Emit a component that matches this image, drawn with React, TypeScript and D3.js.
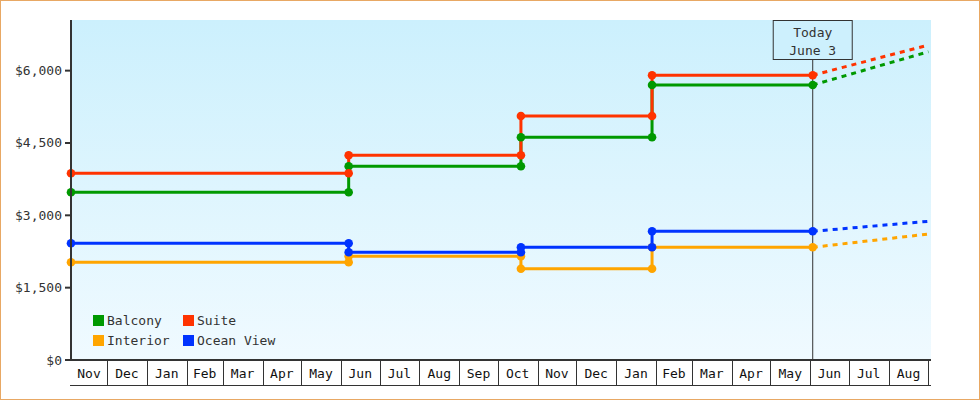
import React from "react";
import * as d3 from "d3";

const seriesNames = ["Balcony", "Suite", "Interior", "Ocean View"];
const seriesColors = ["#009900", "#ff3300", "#ffa500", "#0033ff"];
// dates where prices were observed / changed
const startDate = "2013-11-03";
const changeDates = ["2014-06-07", "2014-10-19", "2015-01-29"];
const todayDate = "2015-06-03";
const forecastDate = "2015-09-01";
const endDate = "2015-09-03";
// price levels for each period (start, after each change)
const balcony = [3478, 4016, 4618, 5702];
const suite = [3871, 4245, 5059, 5905];
const interior = [2026, 2150, 1893, 2337];
const oceanView = [2420, 2233, 2337, 2669];
// forecast values at forecastDate
const forecast = [6392, 6531, 2612, 2876];
const yTicks = [0, 1500, 3000, 4500, 6000];
const yMax = 7050;

const W = 980;
const H = 400;
const L = 71;
const R = 931;
const T = 20;
const B = 360;
const FONT = "'DejaVu Sans Mono', monospace";

const parse = d3.timeParse("%Y-%m-%d");

export default function App() {
  const x = d3.scaleTime().domain([parse(startDate)!, parse(endDate)!]).range([L, R]);
  const y = d3.scaleLinear().domain([0, yMax]).range([B, T]);
  const allLevels = [balcony, suite, interior, oceanView];
  const today = parse(todayDate)!;
  const fDate = parse(forecastDate)!;

  const series = allLevels.map((levels, i) => {
    const pts: [Date, number][] = [[parse(startDate)!, levels[0]]];
    changeDates.forEach((d, k) => {
      const dt = parse(d)!;
      pts.push([dt, levels[k]]);
      pts.push([dt, levels[k + 1]]);
    });
    pts.push([today, levels[levels.length - 1]]);
    const fc: [Date, number][] = [
      [today, levels[levels.length - 1]],
      [fDate, forecast[i]],
    ];
    return { name: seriesNames[i], color: seriesColors[i], pts, fc };
  });

  const line = d3
    .line<[Date, number]>()
    .x((d) => x(d[0]))
    .y((d) => y(d[1]));

  const [d0, d1] = x.domain();
  const monthStarts = d3.timeMonth.range(d3.timeMonth.ceil(d0), d1);
  const monthBands = d3.timeMonth.range(d3.timeMonth.floor(d0), d1).map((m) => {
    const s = m < d0 ? d0 : m;
    const eRaw = d3.timeMonth.offset(m, 1);
    const e = eRaw > d1 ? d1 : eRaw;
    return { m, s, e, full: eRaw <= d1 };
  });
  const fmtMonth = d3.timeFormat("%b");
  const fmtY = d3.format("$,");

  const legendPos = [
    [93, 315],
    [183, 315],
    [93, 335],
    [183, 335],
  ];

  return (
    <svg
      width={W}
      height={H}
      style={{ position: "absolute", left: 0, top: 0, display: "block" }}
      fontFamily={FONT}
      fontSize={13}
    >
      <defs>
        <linearGradient id="bg" x1="0" y1="0" x2="0" y2="1">
          <stop offset="0" stopColor="#ccf0fd" />
          <stop offset="1" stopColor="#f0faff" />
        </linearGradient>
        <clipPath id="plotClip">
          <rect x={L} y={T - 5} width={R - L} height={B - T + 5} />
        </clipPath>
      </defs>
      <rect x={0} y={0} width={W} height={H} fill="#fff" />
      <rect x={L} y={T} width={R - L} height={B - T} fill="url(#bg)" />

      {/* legend */}
      {series.map((s, i) => (
        <g key={s.name}>
          <rect x={legendPos[i][0]} y={legendPos[i][1]} width={11} height={11} fill={s.color} />
          <text x={legendPos[i][0] + 14} y={legendPos[i][1] + 10} fill="#333">
            {s.name}
          </text>
        </g>
      ))}

      {/* today marker */}
      <line x1={x(today)} x2={x(today)} y1={60} y2={B} stroke="#333" strokeWidth={1} />
      <rect x={x(today) - 39.5} y={20.5} width={79} height={39} fill="#cdf0fd" stroke="#333" strokeWidth={1} />
      <text x={x(today)} y={37} textAnchor="middle" fill="#333">
        Today
      </text>
      <text x={x(today)} y={55} textAnchor="middle" fill="#333">
        June 3
      </text>

      {/* series */}
      <g clipPath="url(#plotClip)">
        {series.map((s) => (
          <g key={s.name}>
            <path d={line(s.fc)!} fill="none" stroke={s.color} strokeWidth={3} strokeDasharray="5,5" />
            <path d={line(s.pts)!} fill="none" stroke={s.color} strokeWidth={3} strokeLinejoin="round" />
          </g>
        ))}
      </g>
      {series.map((s) =>
        s.pts.map((p, k) => (
          <circle key={s.name + k} cx={x(p[0])} cy={y(p[1])} r={4.3} fill={s.color} />
        ))
      )}

      {/* y axis */}
      <line x1={L} x2={L} y1={T} y2={B + 1} stroke="#333" strokeWidth={2} />
      {yTicks.map((t) => (
        <g key={t}>
          <line x1={L - 6} x2={L} y1={y(t)} y2={y(t)} stroke="#333" strokeWidth={2} />
          <text x={L - 9} y={y(t) + 4.5} textAnchor="end" fill="#333">
            {fmtY(t)}
          </text>
        </g>
      ))}

      {/* x axis */}
      <line x1={L - 6} x2={R} y1={B} y2={B} stroke="#333" strokeWidth={2} />
      {monthStarts.map((m) => (
        <line key={+m} x1={Math.round(x(m)) + 0.5} x2={Math.round(x(m)) + 0.5} y1={B} y2={385} stroke="#333" strokeWidth={1} />
      ))}
      <line x1={L - 1} x2={R} y1={385.5} y2={385.5} stroke="#333" strokeWidth={1} />
      {monthBands
        .filter((b) => x(b.e) - x(b.s) > 20)
        .map((b) => (
          <text key={+b.m} x={(x(b.s) + x(b.e)) / 2} y={378} textAnchor="middle" fill="#111">
            {fmtMonth(b.m)}
          </text>
        ))}

      {/* outer border */}
      <rect x={0.5} y={0.5} width={W - 1} height={H - 1} fill="none" stroke="#e8a864" strokeWidth={1} />
    </svg>
  );
}
